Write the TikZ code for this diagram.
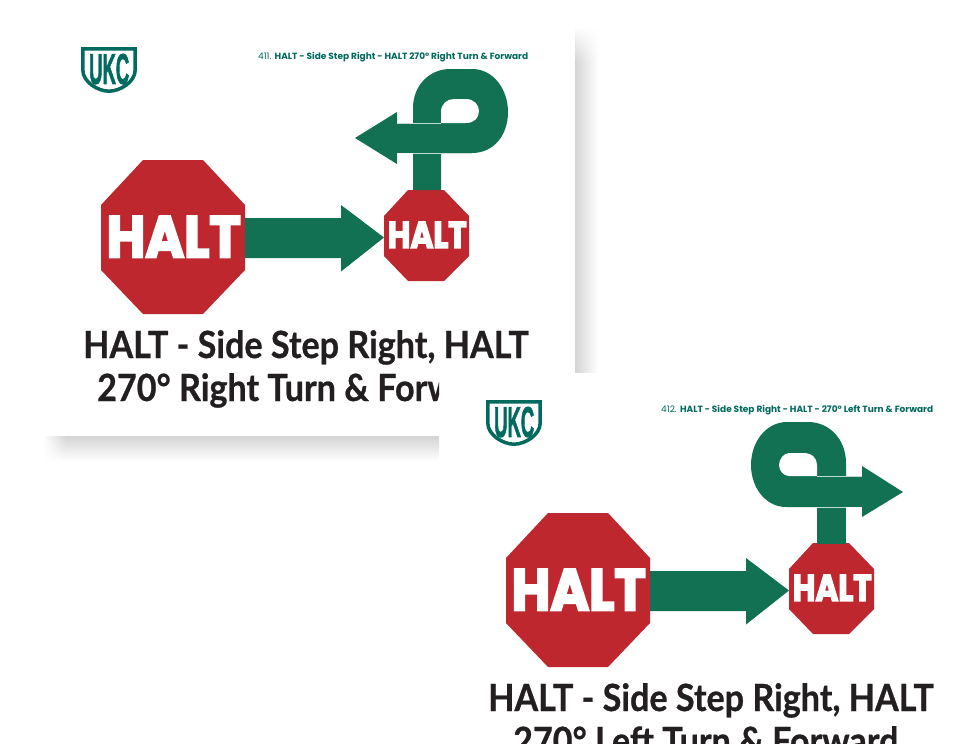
\documentclass[tikz,border=0pt]{standalone}
\usepackage{fontspec}
\usepackage{graphicx}
\usetikzlibrary{fadings}
\setmainfont{Lato}
\newfontfamily\capfont{Lato}[UprightFont={* Bold},FakeBold=.7]
\newfontfamily\haltfont{Poppins}[UprightFont={* Bold},FakeBold=4]
\newfontfamily\headfont{Poppins}[UprightFont={*},BoldFont={* Bold}]
\newfontfamily\logofont{Liberation Sans}[UprightFont={* Bold},FakeBold=2]
\definecolor{stopred}{HTML}{BE272E}
\definecolor{arrowgreen}{HTML}{127153}
\definecolor{logoteal}{HTML}{006A5F}
\definecolor{captionink}{HTML}{231F20}
\definecolor{shadowgrey}{HTML}{D4D4D4}
\tikzset{
  stopsign/.style={fill=stopred,draw=none},
  arrowshape/.style={fill=arrowgreen,draw=none},
  holeshape/.style={fill=white,draw=none},
  seam/.style={draw=white,line width=.6pt,opacity=.75},
  haltlabel/.style={text=white,inner sep=0pt,anchor=south west},
  caption/.style={text=captionink,inner sep=0pt,anchor=base west,font=\capfont\fontsize{37.5}{40}\selectfont},
  header/.style={text=logoteal,inner sep=0pt,anchor=west},
}
\newcommand{\capline}[1]{\scalebox{.91}[1]{#1}}
\newcommand{\cardcommon}[4]{%
  % logo
  \draw[logoteal,line width=3.5pt,line join=miter,fill=white]
    (82.8,48.8) -- (135.2,48.8) -- (135.2,70)
    .. controls (135.2,82) and (120,91.2) .. (109,91.2)
    .. controls (98,91.2) and (82.8,82) .. (82.8,70) -- cycle;
  \node[inner sep=0pt,anchor=south west,text=logoteal] (logo#1) at (89,84.5)
    {\resizebox{40pt}{30pt}{\logofont UKC}};
  % header
  \node[header] (head#1) at (#2,57.2) {\resizebox{#3pt}{!}{\headfont\strut #4}};
  % large sign
  \fill[stopsign] (143,160) -- (203,160) -- (245,205) -- (245,270) -- (203,314) -- (143,314) -- (101,270) -- (101,205) -- cycle;
  \node[haltlabel] (bighalt#1) at (106.5,257.5) {\resizebox{134pt}{41pt}{\haltfont HALT}};
  % first arrow
  \fill[arrowshape] (245,218) -- (341,218) -- (341,205) -- (384,237.5) -- (341,271.5) -- (341,258) -- (245,258) -- cycle;
  % small sign
  \fill[stopsign] (408,190) -- (444,190) -- (469,216) -- (469,256) -- (444,281) -- (408,281) -- (384,256) -- (384,216) -- cycle;
  \node[haltlabel] (smallhalt#1) at (387.5,248) {\resizebox{79pt}{26pt}{\haltfont HALT}};
}
\begin{document}
\begin{tikzpicture}[x=1pt,y=-1pt]
\useasboundingbox (0,0) rectangle (977,744);
\fill[white] (0,0) rectangle (977,744);
% card shadow
\shade[left color=shadowgrey,right color=white] (575,28) rectangle (598,372);
\fill[white,path fading=south] (575,27) rectangle (600,62);
\shade[top color=shadowgrey,bottom color=white] (44,436) rectangle (439,461);
\fill[white,path fading=east] (43,436) rectangle (66,462);
% first card
\begin{scope}
  \cardcommon{A}{258}{270}{411. \textbf{HALT - Side Step Right - HALT 270° Right Turn \& Forward}}
  % loop arrow, right
  \fill[arrowshape] (413,190) -- (413,108) .. controls (413,85) and (430,69) .. (450,69)
     -- (472,69) .. controls (494,69) and (508,90) .. (508,112)
     .. controls (508,135) and (494,153) .. (472,153) -- (441,153) -- (441,190) -- cycle;
  \fill[arrowshape] (472,153) -- (397,153) -- (397,164) -- (355,138) -- (397,112) -- (397,123) -- (472,123) -- cycle;
  \fill[holeshape] (441,123) -- (441,112) .. controls (441,104) and (447,99) .. (454,99)
     -- (466,99) .. controls (474,99) and (479,105) .. (479,111) .. controls (479,118) and (474,123) .. (466,123) -- cycle;
  \draw[seam] (397,123.3) -- (441,123.3);
  \draw[seam] (397,153.7) -- (441,153.7);
  \begin{scope}
    \clip (0,0) -- (977,0) -- (977,372) -- (439,372) -- (439,744) -- (0,744) -- cycle;
    \node[caption] (capA1) at (83,358) {\capline{HALT - Side Step Right, HALT}};
    \node[caption] (capA2) at (97,401) {\capline{270° Right Turn \& Forward}};
  \end{scope}
\end{scope}
% second card
\begin{scope}[shift={(405,353)}]
  \cardcommon{B}{256}{272}{412. \textbf{HALT - Side Step Right - HALT - 270° Left Turn \& Forward}}
  \node[caption] (capB1) at (83,358) {\capline{HALT - Side Step Right, HALT}};
  \node[caption] (capB2) at (108,401) {\capline{270° Left Turn \& Forward}};
\end{scope}
% loop arrow, left-hand figure
\fill[arrowshape] (817,476) rectangle (846,544);
\fill[arrowshape] (846,476) -- (862,476) -- (862,466) -- (903,492) -- (862,517) -- (862,507) -- (786,507)
   .. controls (766,507) and (751,488) .. (751,465)
   .. controls (751,442) and (766,422) .. (787,422) -- (808,422)
   .. controls (830,422) and (846,440) .. (846,463) -- cycle;
\fill[holeshape] (817,476) -- (817,465) .. controls (817,458) and (812,453) .. (803,453) -- (789,453)
   .. controls (784,453) and (779,459) .. (779,465) .. controls (779,471) and (784,476) .. (789,476) -- cycle;
\draw[seam] (817,476.3) -- (862,476.3);
\draw[seam] (817,507.7) -- (862,507.7);
\end{tikzpicture}
\end{document}
